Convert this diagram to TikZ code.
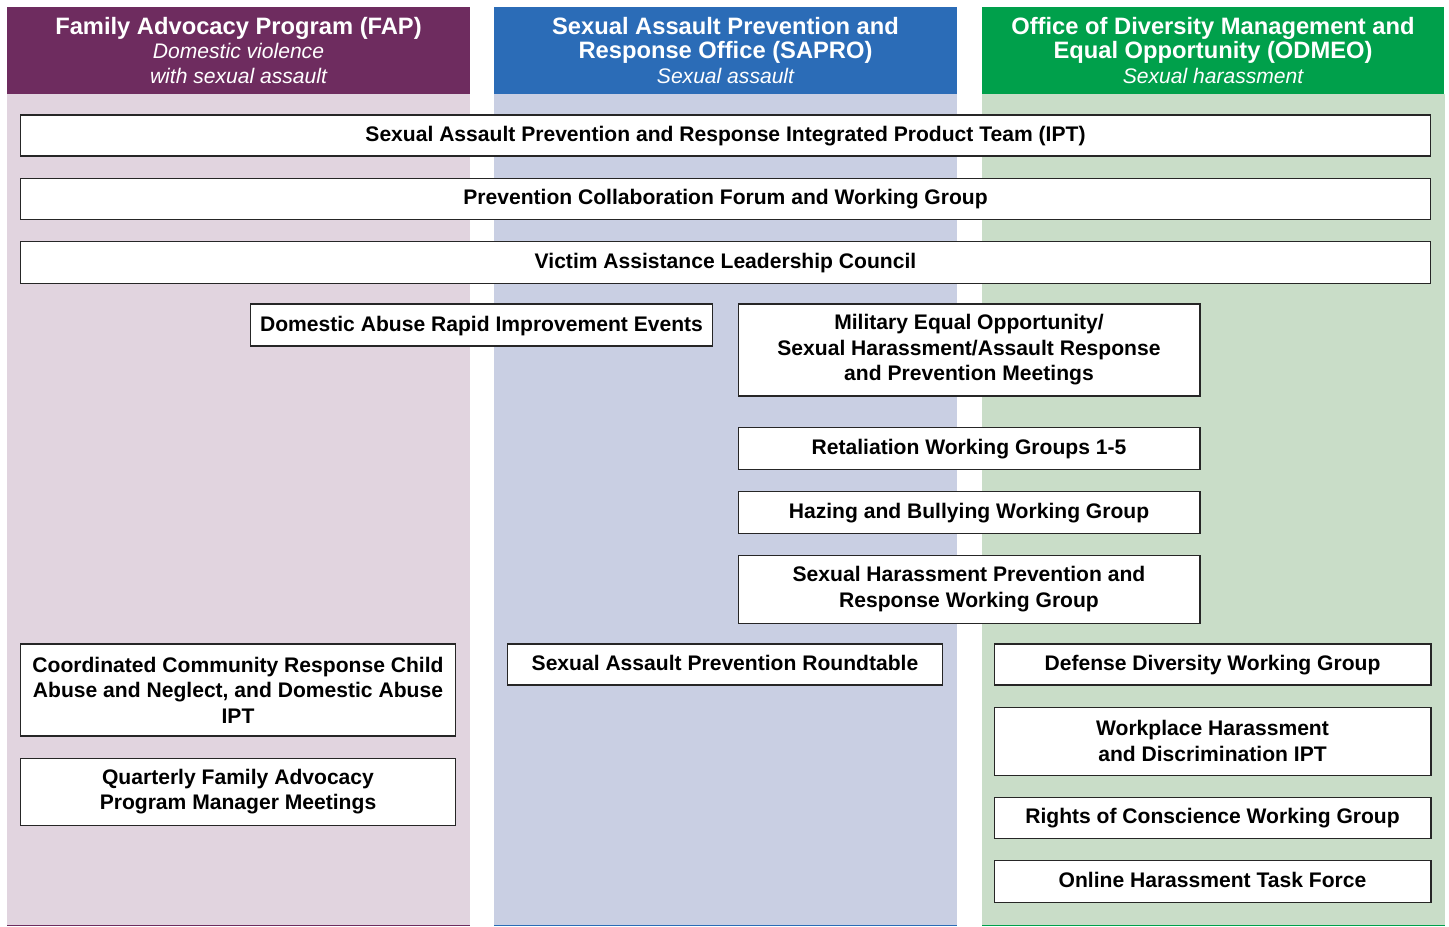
\documentclass[tikz,border=0pt]{standalone}
\usepackage{fontspec}
\setmainfont{Liberation Sans}
\usetikzlibrary{positioning}

\definecolor{fapdark}{RGB}{110,44,95}
\definecolor{faplight}{RGB}{225,212,223}
\definecolor{saprodark}{RGB}{43,108,183}
\definecolor{saprolight}{RGB}{201,207,227}
\definecolor{odmeodark}{RGB}{0,160,75}
\definecolor{odmeolight}{RGB}{201,221,200}

\tikzset{
	grp/.style={draw=black!85, line width=0.6pt, fill=white, align=center,
		font=\fontsize{12}{14.5}\selectfont\bfseries, inner sep=0pt},
	oneline/.style={text height=8.9pt, text depth=2pt},
	head/.style={fill=#1, text=white, align=center, inner sep=0pt,
		font=\fontsize{13.5}{13.7}\selectfont\bfseries,
		minimum width=9.26cm, minimum height=1.74cm},
}
\newcommand{\hsub}[1]{{\fontsize{12}{13.7}\selectfont\mdseries\itshape #1}}

\begin{document}
\begin{tikzpicture}[x=0.02cm,y=-0.02cm, node distance=0.42cm]
		\useasboundingbox (0,0) rectangle (1449,926);
		% columns
		\foreach \xl/\col in {7/fap,494/sapro,982/odmeo} {
			\fill[\col light] (\xl,94) rectangle ++(463,832);
			\draw[\col dark, line width=1pt] (\xl,925.5) -- ++(463,0);
		}
		\node[head=fapdark] (fap) at (238.5,50.5)
			{Family Advocacy Program (FAP)\\ \hsub{Domestic violence}\\ \hsub{with sexual assault}};
		\node[head=saprodark] (sapro) at (725.5,50.5)
			{Sexual Assault Prevention and\\ Response Office (SAPRO)\\ \hsub{Sexual assault}};
		\node[head=odmeodark] (odmeo) at (1213,50.5)
			{Office of Diversity Management and\\ Equal Opportunity (ODMEO)\\ \hsub{Sexual harassment}};
		%
		% shared bodies
		\node[grp, oneline, minimum width=28.22cm, minimum height=0.82cm] (ipt) at (725.5,135.5)
			{Sexual Assault Prevention and Response Integrated Product Team (IPT)};
		\node[grp, oneline, minimum width=28.22cm, minimum height=0.82cm, below=of ipt] (pcf)
			{Prevention Collaboration Forum and Working Group};
		\node[grp, oneline, minimum width=28.22cm, minimum height=0.84cm, below=of pcf] (valc)
			{Victim Assistance Leadership Council};
		\node[grp, oneline, minimum width=9.26cm, minimum height=0.84cm] (dare) at (481.5,325)
			{Domestic Abuse Rapid Improvement Events};
		\node[grp, minimum width=9.24cm, minimum height=1.84cm] (meo) at (969,350)
			{Military Equal Opportunity/\\ Sexual Harassment/Assault Response\\ and Prevention Meetings};
		\node[grp, oneline, minimum width=9.24cm, minimum height=0.84cm, below=0.6cm of meo] (ret)
			{Retaliation Working Groups 1-5};
		\node[grp, oneline, minimum width=9.24cm, minimum height=0.84cm, below=of ret] (haz)
			{Hazing and Bullying Working Group};
		\node[grp, minimum width=9.24cm, minimum height=1.36cm, below=of haz] (shp)
			{Sexual Harassment Prevention and\\ Response Working Group};
		%
		% FAP
		\node[grp, minimum width=8.72cm, minimum height=1.84cm] (ccr) at (238,690)
			{Coordinated Community Response Child\\ Abuse and Neglect, and Domestic Abuse\\ IPT};
		\node[grp, minimum width=8.72cm, minimum height=1.34cm, below=of ccr] (qfa)
			{Quarterly Family Advocacy\\ Program Manager Meetings};
		% SAPRO
		\node[grp, oneline, minimum width=8.72cm, minimum height=0.82cm] (sapr) at (725,664.5)
			{Sexual Assault Prevention Roundtable};
		% ODMEO
		\node[grp, oneline, minimum width=8.74cm, minimum height=0.82cm] (ddwg) at (1212.5,664.5)
			{Defense Diversity Working Group};
		\node[grp, minimum width=8.74cm, minimum height=1.36cm, below=of ddwg] (whd)
			{Workplace Harassment\\ and Discrimination IPT};
		\node[grp, oneline, minimum width=8.74cm, minimum height=0.82cm, below=of whd] (roc)
			{Rights of Conscience Working Group};
		\node[grp, oneline, minimum width=8.74cm, minimum height=0.84cm, below=of roc] (oht)
			{Online Harassment Task Force};
	\end{tikzpicture}
\end{document}
